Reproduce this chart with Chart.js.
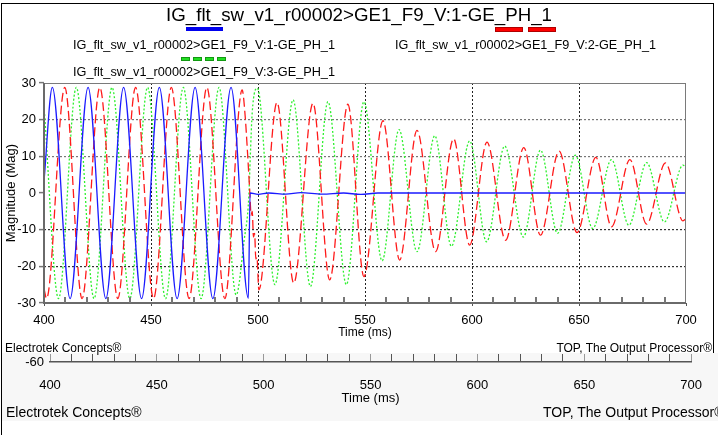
<!DOCTYPE html>
<html>
<head>
<meta charset="utf-8">
<script src="https://cdn.jsdelivr.net/npm/chart.js@4.4.1/dist/chart.umd.min.js"></script>
<style>
  html, body { margin: 0; padding: 0; background: #fff; }
  body { width: 718px; height: 435px; position: relative; overflow: hidden;
         font-family: "Liberation Sans", Arial, sans-serif; color: #000; }
  .abs { position: absolute; white-space: nowrap; transform-origin: left center; }
  #frame { position: absolute; left: 1px; top: 3px; width: 711px; height: 352px;
           border: 1px solid #000; border-bottom: none; }
  #leftline { position: absolute; left: 1px; top: 3px; width: 1px; height: 432px; background: #000; }
  #panel { position: absolute; left: 2px; top: 353px; width: 716px; height: 68px; background: #f7f7f7; }
  #main { position: absolute; left: 0; top: 0; }
  #axis2 { position: absolute; left: 0; top: 340px; }
  .sym { position: absolute; }
</style>
</head>
<body>
<div id="frame"></div>
<div id="panel"></div>
<div id="leftline"></div>
<canvas id="main" width="718" height="340"></canvas>
<canvas id="axis2" width="718" height="80"></canvas>

<script>
/* ---------- Data ---------- */
const TITLE = 'IG_flt_sw_v1_r00002>GE1_F9_V:1-GE_PH_1';
const LEGEND = [
  'IG_flt_sw_v1_r00002>GE1_F9_V:1-GE_PH_1',
  'IG_flt_sw_v1_r00002>GE1_F9_V:2-GE_PH_1',
  'IG_flt_sw_v1_r00002>GE1_F9_V:3-GE_PH_1'
];
const X_TICKS = [400, 450, 500, 550, 600, 650, 700];
const Y_TICKS = [-30, -20, -10, 0, 10, 20, 30];

// phase 1 (blue) - peaks / troughs in ms, then collapses to ~0 after the fault
const blueT = [400, 403.9, 412.2, 420.6, 428.9, 437.2, 445.6, 453.9, 462.2, 470.6, 478.9, 487.4, 495.5,
               496.3, 500, 505, 513, 520, 530, 540, 548, 556, 700];
const blueV = [3.2, 28.8, -28.8, 28.8, -28.8, 28.8, -28.8, 28.8, -28.8, 28.8, -28.8, 28.8, -28.7,
               0, -0.4, 0, -0.3, 0.1, -0.3, 0, -0.4, 0, 0];

// phase 2 (red)
const redT = [400, 401.2, 409.7, 417.8, 426.1, 434.5, 442.8, 451.2, 459.5, 467.8, 476.1, 484.5, 492.6,
              494, 495, 496.1, 496.8, 497.3, 497.9, 498.4, 499, 499.5, 500.4,
              508.9, 516.7, 525.7, 533.5, 542, 549.5, 558.4, 566.2, 574.3, 583, 591.4, 598.9, 607,
              615.7, 624.2, 632, 640.7, 649.1, 657.9, 665.2, 673.8, 681.6, 690.4, 698.6, 700];
const redV = [-26.1, -28.8, 28.8, -28.8, 28.8, -28.8, 28.8, -28.8, 28.8, -28.8, 28.8, -28.8, 28.1,
              21, 12, 1, -6, -5, -12, -11, -18, -17.5, -26.4,
              24.7, -24.6, 24.5, -23.7, 24.2, -22.8, 19.7, -18.3, 17.1, -16, 14.8, -14.2, 13.9,
              -12.9, 12.4, -11.5, 11.4, -10.8, 9.7, -9.2, 9.1, -8.5, 8.2, -7.6, -7.0];

// phase 3 (green)
const greenT = [400, 406.8, 415.1, 423.4, 431.8, 440.1, 448.4, 456.8, 465.1, 473.4, 481.8, 489.8,
                493.5, 495.7, 496.4, 497.3, 499.7,
                507.9, 516.4, 524.5, 532.7, 541.3, 549.5, 558, 565.9, 574.3, 582.6, 590.4, 598.9,
                606.8, 615.3, 624, 632, 640, 648.3, 656.4, 665.2, 673.3, 681.6, 689.9, 698.6, 700];
const greenV = [23.7, -28.8, 28.8, -28.8, 28.8, -28.8, 28.8, -28.8, 28.8, -28.8, 28.8, -27.8,
                -13, -1, 10, 22, 28.6,
                -25, 25.4, -25.5, 24.9, -25, 24.9, -18.5, 17.3, -16, 15.6, -14.5, 14.2,
                -13.3, 12.8, -12, 11.7, -11, 10.3, -9.7, 9.1, -8.8, 8.3, -7.9, 7.6, 7.0];

/* ---------- Helpers ---------- */
function pts(ts, vs) { return ts.map((t, i) => ({ x: t, y: vs[i] })); }

// put a text line at a centre y, optionally squeezing it to a given width
function text(str, o) {
  const d = document.createElement('div');
  d.className = 'abs';
  d.textContent = str;
  d.style.fontSize = o.fs + 'px';
  d.style.lineHeight = o.fs + 'px';
  d.style.top = (o.cy - o.fs / 2) + 'px';
  document.body.appendChild(d);
  const w = d.getBoundingClientRect().width;
  let shown = w;
  if (o.w) { d.style.transform = 'scaleX(' + (o.w / w) + ')'; shown = o.w; }
  if (o.right != null) d.style.left = (o.right - shown) + 'px';
  else if (o.center != null) d.style.left = (o.center - shown / 2) + 'px';
  else d.style.left = o.left + 'px';
  return d;
}

function bar(x, y, w, h, fill, stroke) {
  const d = document.createElement('div');
  d.className = 'sym';
  d.style.left = x + 'px'; d.style.top = y + 'px';
  d.style.width = w + 'px'; d.style.height = h + 'px';
  d.style.background = fill;
  if (stroke) { d.style.boxSizing = 'border-box'; d.style.border = '1px solid ' + stroke; }
  document.body.appendChild(d);
}

/* ---------- Header texts + legend ---------- */
text(TITLE, { fs: 19, cy: 14, left: 166, w: 386 });
bar(186, 27, 37, 4, '#0000ee');
bar(495, 27, 28, 5, '#ff0000', '#b00000');
bar(528, 27, 28, 5, '#ff0000', '#b00000');
[181, 193, 205, 217].forEach(x => bar(x, 57, 9, 4, '#22dd22', '#119911'));
text(LEGEND[0], { fs: 12, cy: 45, left: 73, w: 262 });
text(LEGEND[1], { fs: 12, cy: 45, left: 395, w: 261 });
text(LEGEND[2], { fs: 12, cy: 72, left: 73, w: 262 });

/* ---------- Footer texts ---------- */
text('Electrotek Concepts\u00ae', { fs: 12, cy: 348, left: 5 });
text('TOP, The Output Processor\u00ae', { fs: 12, cy: 348, right: 712 });
text('-60', { fs: 13, cy: 361, right: 44 });
text('Electrotek Concepts\u00ae', { fs: 14, cy: 412, left: 6 });
text('TOP, The Output Processor\u00ae', { fs: 14, cy: 412, left: 543 });

/* ---------- Plot frame + inner minor ticks ---------- */
const framePlugin = {
  id: 'frame',
  afterDraw(chart) {
    const { ctx, chartArea: a, scales } = chart;
    ctx.save();
    ctx.strokeStyle = '#7a7a7a';
    ctx.lineWidth = 1;
    ctx.strokeRect(a.left + 0.5, a.top + 0.5, a.right - a.left - 1, a.bottom - a.top - 1);
    ctx.strokeStyle = '#6a6a6a';
    ctx.lineWidth = 2;
    ctx.beginPath();
    ctx.moveTo(a.left, a.top); ctx.lineTo(a.left, a.bottom); ctx.lineTo(a.right, a.bottom);
    ctx.stroke();
    // minor ticks every 10 ms, pointing up into the plot
    ctx.strokeStyle = '#777';
    ctx.lineWidth = 2;
    for (let t = 410; t < 700; t += 10) {
      if (t % 50 === 0) continue;
      const px = Math.round(scales.x.getPixelForValue(t));
      ctx.beginPath(); ctx.moveTo(px, a.bottom); ctx.lineTo(px, a.bottom - 6); ctx.stroke();
    }
    ctx.restore();
  }
};

/* ---------- Main chart ---------- */
new Chart(document.getElementById('main'), {
  type: 'line',
  data: {
    datasets: [
      { label: LEGEND[0], data: pts(blueT, blueV), borderColor: '#1a1aff', borderWidth: 1.3 },
      { label: LEGEND[1], data: pts(redT, redV), borderColor: '#ff1a1a', borderWidth: 1.3, borderDash: [9, 4] },
      { label: LEGEND[2], data: pts(greenT, greenV), borderColor: '#2ef02e', borderWidth: 1.3, borderDash: [2, 2] }
    ]
  },
  options: {
    animation: false,
    responsive: false,
    devicePixelRatio: 1,
    layout: { padding: { top: 83, right: 32, left: 0, bottom: 0 } },
    elements: {
      point: { radius: 0 },
      line: { cubicInterpolationMode: 'monotone', fill: false }
    },
    plugins: { legend: { display: false }, tooltip: { enabled: false } },
    scales: {
      x: {
        type: 'linear', min: 400, max: 700,
        afterFit(s) { s.height = 37; },
        afterBuildTicks(s) { s.ticks = X_TICKS.map(v => ({ value: v })); },
        ticks: { color: '#000', font: { family: 'Liberation Sans', size: 13 }, padding: 7, maxRotation: 0 },
        grid: {
          color: c => (c.tick && (c.tick.value === 400 || c.tick.value === 700)) ? 'rgba(0,0,0,0)' : '#222',
          lineWidth: 1, tickLength: 3, tickColor: '#555', tickBorderDash: []
        },
        border: { display: false, dash: [2, 2] },
        title: { display: true, text: 'Time (ms)', color: '#000', font: { family: 'Liberation Sans', size: 12 }, padding: { top: 0, bottom: 0 } }
      },
      y: {
        min: -30, max: 30,
        afterFit(s) { s.width = 44; },
        afterBuildTicks(s) { s.ticks = Y_TICKS.map(v => ({ value: v })); },
        ticks: { color: '#000', font: { family: 'Liberation Sans', size: 13 }, padding: 3 },
        grid: {
          color: c => {
            const v = c.tick ? c.tick.value : 0;
            if (v === 0 || Math.abs(v) === 30) return 'rgba(0,0,0,0)';
            return v > 0 ? '#777' : '#333';
          },
          lineWidth: 1.2, tickLength: 5, tickColor: '#777', tickWidth: 1.5, tickBorderDash: []
        },
        border: { display: false, dash: [2, 2] },
        title: { display: true, text: 'Magnitude (Mag)', color: '#000', font: { family: 'Liberation Sans', size: 13 }, padding: { top: 4, bottom: 0 } }
      }
    }
  },
  plugins: [framePlugin]
});

/* ---------- Second (overview) time axis ---------- */
new Chart(document.getElementById('axis2'), {
  type: 'line',
  data: { datasets: [] },
  options: {
    animation: false,
    responsive: false,
    devicePixelRatio: 1,
    layout: { padding: { top: 14, right: 18, left: 50, bottom: 0 } },
    plugins: { legend: { display: false }, tooltip: { enabled: false } },
    scales: {
      x: {
        type: 'linear', min: 400, max: 700,
        afterFit(s) { s.height = 58; },
        ticks: {
          stepSize: 10, autoSkip: false, maxRotation: 0, padding: 16,
          color: '#000', font: { family: 'Liberation Sans', size: 13 },
          callback: v => (v % 50 === 0 ? String(v) : '')
        },
        grid: {
          drawTicks: false,
          color: c => (c.tick && c.tick.value % 50 === 0) ? '#999' : '#555',
          lineWidth: 1
        },
        border: { display: true, color: '#555', width: 1.5 },
        title: { display: true, text: 'Time (ms)', color: '#000', font: { family: 'Liberation Sans', size: 13 }, padding: { top: 0, bottom: 14 } }
      },
      y: { display: false, min: 0, max: 1 }
    }
  }
});
</script>
</body>
</html>
